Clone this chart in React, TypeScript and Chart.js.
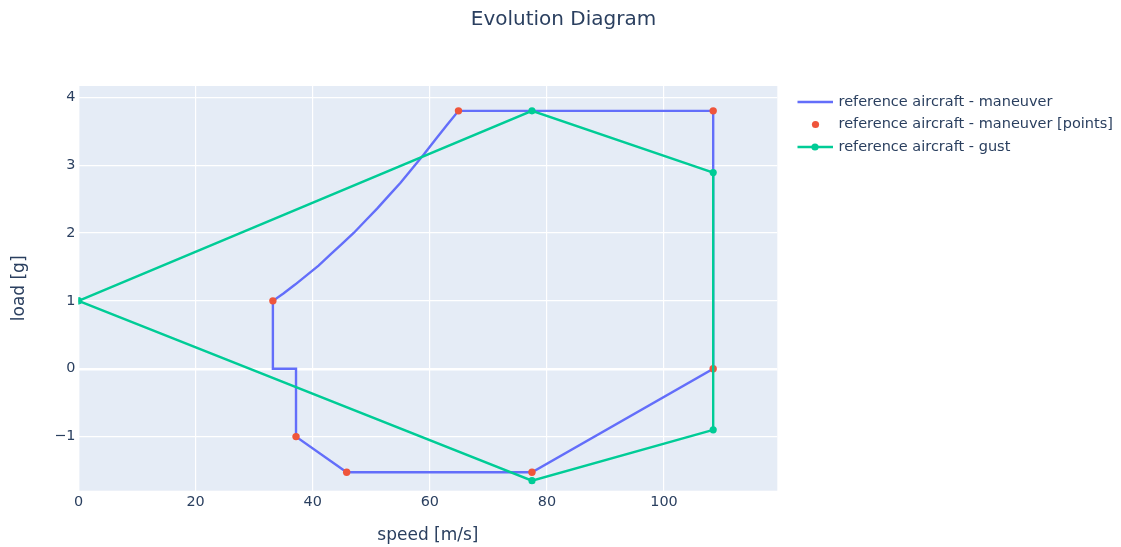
import React, { useEffect, useRef } from "react";
import { Chart, registerables } from "chart.js";

Chart.register(...registerables);

const TITLE = "Evolution Diagram";
const X_TITLE = "speed [m/s]";
const Y_TITLE = "load [g]";

const maneuverX = [33.2, 35, 37, 39, 41, 43, 45, 47, 49, 51, 53, 55, 57, 59, 61, 63, 64.9, 108.4, 108.4, 77.45, 45.8, 37.15, 37.15, 33.2, 33.2];
const maneuverY = [1.0, 1.11, 1.24, 1.38, 1.52, 1.68, 1.84, 2.0, 2.18, 2.36, 2.55, 2.74, 2.95, 3.16, 3.38, 3.6, 3.8, 3.8, 0, -1.526, -1.526, -1.0, 0, 0, 1.0];

// maneuver corner points
const pointsX = [33.2, 64.9, 108.4, 108.4, 77.45, 45.8, 37.15];
const pointsY = [1.0, 3.8, 3.8, 0, -1.526, -1.526, -1.0];

// gust envelope
const gustX = [0, 77.45, 108.4, 108.4, 77.45, 0];
const gustY = [1.0, 3.8, 2.89, -0.9, -1.65, 1.0];

const xTicks = [0, 20, 40, 60, 80, 100];
const yTicks = [-1, 0, 1, 2, 3, 4];

const SERIES_NAMES = [
  "reference aircraft - maneuver",
  "reference aircraft - maneuver [points]",
  "reference aircraft - gust",
];

const BLUE = "#636efa";
const RED = "#EF553B";
const GREEN = "#00cc96";
const TEXT = "#2a3f5f";
const FONT = "'DejaVu Sans', Verdana, sans-serif";

const W = 1121;
const H = 547;
const AREA = { left: 78.5, right: 777.3, top: 86, bottom: 490.7 };

const toXY = (xs: number[], ys: number[]) => xs.map((x, i) => ({ x, y: ys[i] }));

const fmt = (v: number) => (v < 0 ? "\u2212" + Math.abs(v) : String(v));

export default function App() {
  const ref = useRef<HTMLCanvasElement | null>(null);

  useEffect(() => {
    document.body.style.margin = "0";
    const canvas = ref.current;
    if (!canvas) return;

    const bgPlugin = {
      id: "plotBg",
      beforeDraw(chart: any) {
        const { ctx, chartArea } = chart;
        ctx.save();
        ctx.fillStyle = "#E5ECF6";
        ctx.fillRect(chartArea.left, chartArea.top, chartArea.right - chartArea.left, chartArea.bottom - chartArea.top);
        ctx.restore();
      },
    };

    const overlayPlugin = {
      id: "overlay",
      afterDraw(chart: any) {
        const ctx = chart.ctx as CanvasRenderingContext2D;
        ctx.save();
        ctx.fillStyle = TEXT;
        ctx.textBaseline = "middle";
        ctx.font = `20px ${FONT}`;
        ctx.textAlign = "center";
        ctx.fillText(TITLE, 563.5, 20);

        // legend
        ctx.font = `14.5px ${FONT}`;
        ctx.textAlign = "left";
        const rows = [102, 124.5, 147];
        const lx0 = 797.5;
        const lx1 = 833;
        const tx = 838.5;
        ctx.strokeStyle = BLUE;
        ctx.lineWidth = 2.4;
        ctx.beginPath();
        ctx.moveTo(lx0, rows[0]);
        ctx.lineTo(lx1, rows[0]);
        ctx.stroke();
        ctx.fillStyle = RED;
        ctx.beginPath();
        ctx.arc(815.5, rows[1], 3.6, 0, Math.PI * 2);
        ctx.fill();
        ctx.strokeStyle = GREEN;
        ctx.beginPath();
        ctx.moveTo(lx0, rows[2]);
        ctx.lineTo(lx1, rows[2]);
        ctx.stroke();
        ctx.fillStyle = GREEN;
        ctx.beginPath();
        ctx.arc(815, rows[2], 3.6, 0, Math.PI * 2);
        ctx.fill();

        ctx.fillStyle = TEXT;
        SERIES_NAMES.forEach((n, i) => ctx.fillText(n, tx, rows[i]));
        ctx.restore();
      },
    };

    const chart = new Chart(canvas, {
      type: "scatter",
      data: {
        datasets: [
          {
            label: SERIES_NAMES[0],
            data: toXY(maneuverX, maneuverY),
            showLine: true,
            borderColor: BLUE,
            backgroundColor: BLUE,
            borderWidth: 2.4,
            pointRadius: 0,
            tension: 0,
            order: 3,
            clip: 0,
          },
          {
            label: SERIES_NAMES[1],
            data: toXY(pointsX, pointsY),
            showLine: false,
            backgroundColor: RED,
            borderColor: RED,
            borderWidth: 0,
            pointRadius: 3.7,
            order: 2,
            clip: 0,
          },
          {
            label: SERIES_NAMES[2],
            data: toXY(gustX, gustY),
            showLine: true,
            borderColor: GREEN,
            backgroundColor: GREEN,
            borderWidth: 2.4,
            pointRadius: 3.6,
            pointBorderWidth: 0,
            tension: 0,
            order: 1,
            clip: 0,
          },
        ] as any,
      },
      options: {
        animation: false,
        responsive: false,
        events: [],
        layout: { padding: { top: AREA.top, right: W - AREA.right, bottom: 0, left: 0 } },
        plugins: {
          legend: { display: false },
          title: { display: false },
          tooltip: { enabled: false },
        },
        scales: {
          x: {
            type: "linear",
            min: 0,
            max: 119.35,
            afterFit(scale: any) {
              scale.height = H - AREA.bottom;
            },
            afterBuildTicks(scale: any) {
              scale.ticks = xTicks.map((v) => ({ value: v }));
            },
            border: { display: false },
            grid: {
              color: "#ffffff",
              lineWidth: (c: any) => (c.tick && c.tick.value === 0 ? 2.4 : 1.2),
              drawTicks: false,
            },
            ticks: {
              color: TEXT,
              font: { family: FONT, size: 14.4 },
              padding: 3,
              maxRotation: 0,
              autoSkip: false,
              callback: (v: any) => fmt(Number(v)),
            },
            title: {
              display: true,
              text: X_TITLE,
              color: TEXT,
              font: { family: FONT, size: 17 },
              padding: { top: 0, bottom: 0.8 },
            },
          },
          y: {
            type: "linear",
            min: -1.797,
            max: 4.166,
            afterFit(scale: any) {
              scale.width = AREA.left;
            },
            afterBuildTicks(scale: any) {
              scale.ticks = yTicks.map((v) => ({ value: v }));
            },
            border: { display: false },
            grid: {
              color: "#ffffff",
              lineWidth: (c: any) => (c.tick && c.tick.value === 0 ? 2.4 : 1.2),
              drawTicks: false,
            },
            ticks: {
              color: TEXT,
              font: { family: FONT, size: 14.4 },
              padding: 3,
              autoSkip: false,
              callback: (v: any) => fmt(Number(v)),
            },
            title: {
              display: true,
              text: Y_TITLE,
              color: TEXT,
              font: { family: FONT, size: 17 },
              padding: { top: 9.8, bottom: 0 },
            },
          },
        },
      },
      plugins: [bgPlugin, overlayPlugin],
    } as any);

    return () => chart.destroy();
  }, []);

  return (
    <div style={{ width: W, height: H, background: "#fff" }}>
      <canvas ref={ref} width={W} height={H} style={{ display: "block", width: W, height: H }} />
    </div>
  );
}
